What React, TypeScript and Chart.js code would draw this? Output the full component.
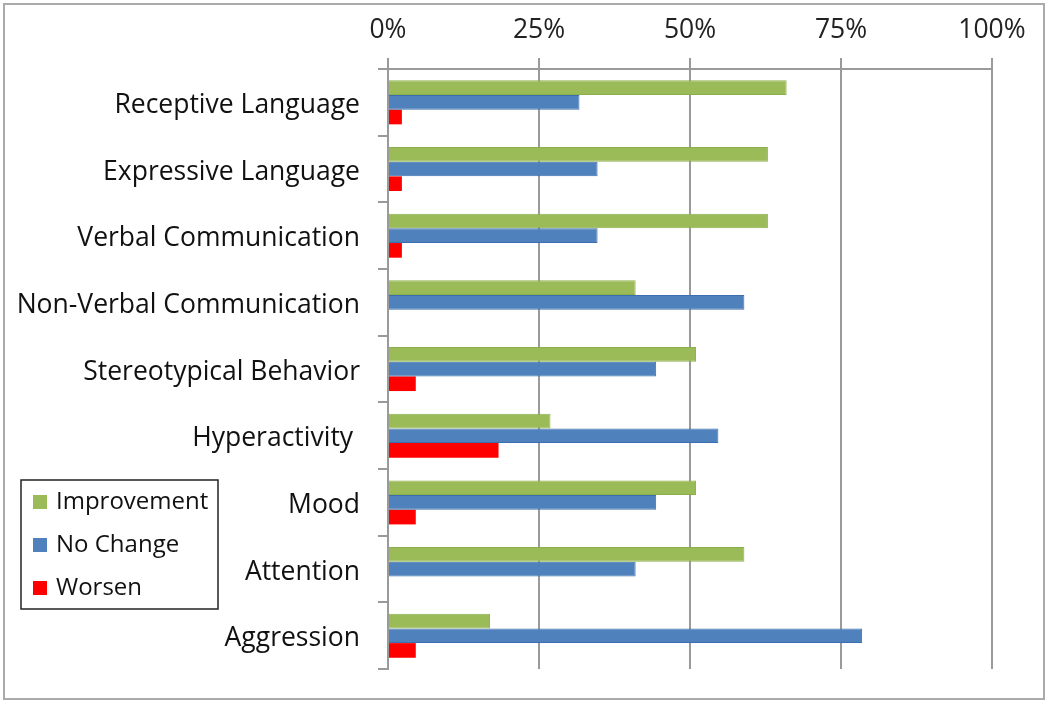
import React, { useEffect, useRef } from "react";
import { Chart, registerables } from "chart.js";

Chart.register(...registerables);

const categories = [
  "Receptive Language",
  "Expressive Language",
  "Verbal Communication",
  "Non-Verbal Communication",
  "Stereotypical Behavior",
  "Hyperactivity ",
  "Mood",
  "Attention",
  "Aggression",
];
const improvement = [66, 62.9, 62.9, 41, 51, 26.9, 51, 59, 16.9];
const noChange = [31.7, 34.7, 34.7, 59, 44.4, 54.7, 44.4, 41, 78.5];
const worsen = [2.3, 2.3, 2.3, 0, 4.6, 18.3, 4.6, 0, 4.6];
const xTicks = [0, 25, 50, 75, 100];

const FONT = "'Open Sans', 'Liberation Sans', sans-serif";

const legendBoxPlugin = {
  id: "legendBox",
  afterDraw(chart: any) {
    const ctx = chart.ctx;
    const x = 21, y = 480, w = 197, h = 129;
    ctx.save();
    ctx.fillStyle = "#ffffff";
    ctx.fillRect(x, y, w, h);
    ctx.strokeStyle = "#222222";
    ctx.lineWidth = 1.5;
    ctx.strokeRect(x, y, w, h);
    ctx.font = `24px ${FONT}`;
    ctx.textBaseline = "middle";
    ctx.textAlign = "left";
    chart.data.datasets.forEach((ds: any, i: number) => {
      const cy = y + 22 + i * 43;
      ctx.fillStyle = ds.backgroundColor;
      ctx.fillRect(x + 12, cy - 7, 14, 14);
      ctx.fillStyle = "#111111";
      ctx.fillText(ds.label, x + 35, cy);
    });
    ctx.restore();
  },
};

export default function App() {
  const ref = useRef<HTMLCanvasElement | null>(null);
  useEffect(() => {
    document.body.style.margin = "0";
    const chart = new Chart(ref.current as HTMLCanvasElement, {
      type: "bar",
      data: {
        labels: categories,
        datasets: [
          { label: "Improvement", data: improvement, backgroundColor: "#9BBB59", borderColor: "#8DAF4B", borderWidth: 1 },
          { label: "No Change", data: noChange, backgroundColor: "#4F81BD", borderColor: "#3C6FB0", borderWidth: 1 },
          { label: "Worsen", data: worsen, backgroundColor: "#FF0000", borderColor: "#FF0000", borderWidth: 0 },
        ],
      },
      options: {
        indexAxis: "y",
        animation: false,
        responsive: false,
        maintainAspectRatio: false,
        layout: { padding: { left: 0, right: 58, top: 0, bottom: 19 } },
        datasets: { bar: { categoryPercentage: 0.66, barPercentage: 1 } },
        plugins: { legend: { display: false }, tooltip: { enabled: false } },
        scales: {
          x: {
            position: "top",
            min: 0,
            max: 100,
            afterFit(scale: any) { scale.height = 69; },
            afterBuildTicks(scale: any) { scale.ticks = xTicks.map((v) => ({ value: v })); },
            ticks: {
              callback: (v: any) => v + "%",
              font: { family: FONT, size: 26.5 },
              color: "#222222",
              padding: 12,
              maxRotation: 0,
            },
            grid: { color: "#9a9a9a", lineWidth: 2, tickLength: 11, drawOnChartArea: true },
            border: { display: true, color: "#9a9a9a", width: 2 },
          },
          y: {
            afterFit(scale: any) { scale.width = 388; },
            ticks: {
              font: { family: FONT, size: 26.5 },
              color: "#111111",
              padding: 18,
              labelOffset: 3,
            },
            grid: { color: "#9a9a9a", lineWidth: 2, tickLength: 10, drawOnChartArea: false, offset: true },
            border: { display: true, color: "#9a9a9a", width: 2 },
          },
        },
      },
      plugins: [legendBoxPlugin],
    });
    return () => chart.destroy();
  }, []);
  return (
    <div style={{ position: "relative", width: 1050, height: 703 }}>
      <canvas ref={ref} width={1050} height={703} style={{ display: "block" }} />
      <div
        style={{
          position: "absolute",
          left: 3,
          top: 3,
          width: 1042,
          height: 697,
          boxSizing: "border-box",
          border: "2px solid #ababab",
          pointerEvents: "none",
        }}
      />
    </div>
  );
}
